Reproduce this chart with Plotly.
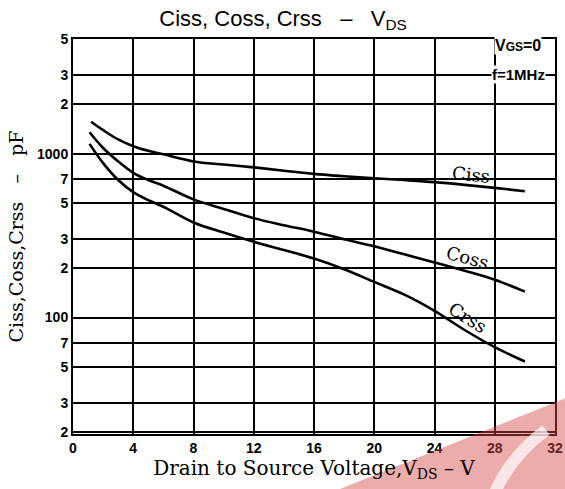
import plotly.graph_objects as go
import math

# Values (V_DS in volts, capacitance in pF)
vds_ciss = [1.2, 2, 3, 4, 5, 6, 8, 10, 12, 14, 16, 18, 20, 22, 24, 26, 28, 30]
ciss = [1564, 1390, 1220, 1110, 1040, 990, 896, 858, 824, 787, 752, 728, 708, 690, 670, 645, 618, 590]

vds_coss = [1.1, 2, 3, 4, 5, 6, 8, 10, 12, 14, 16, 18, 20, 22, 24, 26, 28, 30]
coss = [1349, 1082, 896, 764, 690, 637, 526, 460, 404, 366, 334, 300, 272, 243, 217, 193, 170, 144]

vds_crss = [1.1, 2, 3, 4, 5, 6, 8, 10, 12, 14, 16, 18, 20, 22, 24, 26, 28, 30]
crss = [1147, 875, 690, 582, 520, 474, 380, 330, 290, 258, 229, 197, 165, 138, 110, 84, 66, 54]

y_tickvals = [20, 30, 50, 70, 100, 200, 300, 500, 700, 1000, 2000, 3000, 5000]
y_ticktext = ["2", "3", "5", "7", "100", "2", "3", "5", "7", "1000", "2", "3", "5"]
x_tickvals = [0, 4, 8, 12, 16, 20, 24, 28, 32]

serif = "DejaVu Serif, Liberation Serif, serif"
sans = "Liberation Sans, DejaVu Sans, sans-serif"
nb = "\u00a0"

W, H = 565, 489
L, R, T, B = 73, 10, 39, 55
PW, PH = W - L - R, H - T - B


def pp(x, y):
    """page pixel -> paper coords"""
    return (x - L) / PW, (H - B - y) / PH


fig = go.Figure()
for xs, ys in [(vds_ciss, ciss), (vds_coss, coss), (vds_crss, crss)]:
    fig.add_trace(go.Scatter(x=xs, y=ys, mode="lines",
                             line=dict(color="black", width=2.6, shape="spline", smoothing=1.0),
                             showlegend=False, hoverinfo="skip"))

fig.update_layout(
    width=W, height=H,
    margin=dict(l=L, r=R, t=T, b=B, autoexpand=False),
    paper_bgcolor="white", plot_bgcolor="white",
    title=dict(text=f"Ciss, Coss, Crss{nb*3}\u2013{nb*3}V<sub>DS</sub>", x=0.501, xanchor="center",
               y=0.963, yanchor="middle", font=dict(family=sans, size=22, color="black")),
    xaxis=dict(range=[0, 32], tickvals=x_tickvals, ticktext=[str(v) for v in x_tickvals],
               showgrid=True, gridcolor="black", gridwidth=1.8, zeroline=False, automargin=False,
               showline=True, linecolor="black", linewidth=2, mirror=True,
               ticks="", tickfont=dict(family=sans, size=14, color="black", weight="bold"),
               title=dict(text=f"Drain to Source Voltage,V<sub>DS</sub>{nb}\u2013{nb}V",
                          font=dict(family=serif, size=20, color="black"), standoff=2)),
    yaxis=dict(type="log", range=[math.log10(19.5), math.log10(5000)], tickvals=y_tickvals, ticktext=y_ticktext,
               showgrid=True, gridcolor="black", gridwidth=1.8, zeroline=False, automargin=False,
               showline=True, linecolor="black", linewidth=2, mirror=True,
               ticks="", tickfont=dict(family=sans, size=14, color="black", weight="bold"),
               title=dict(text=f"Ciss,Coss,Crss{nb*3}\u2013{nb*3}pF",
                          font=dict(family=serif, size=19, color="black"), standoff=8)),
)


# white patches that interrupt the grid behind the curve labels (drawn under the curves)
def label_patch(cx, cy, hw, hh, ang):
    a = math.radians(ang)
    ux, uy = math.cos(a), math.sin(a)
    vx, vy = -math.sin(a), math.cos(a)
    pts = []
    for su, sv in [(-1, -1), (1, -1), (1, 1), (-1, 1)]:
        px, py = cx + su * hw * ux + sv * hh * vx, cy + su * hw * uy + sv * hh * vy
        pts.append(pp(px, py))
    path = "M " + " L ".join(f"{x:.4f} {y:.4f}" for x, y in pts) + " Z"
    fig.add_shape(type="path", xref="paper", yref="paper", path=path,
                  fillcolor="white", line=dict(width=0), layer="between")


label_patch(469, 174, 30, 10, 6)
label_patch(468, 257, 28, 11, 15)
label_patch(468, 318, 28, 11, 32)

fig.add_annotation(x=26.4, y=math.log10(741), text="Ciss", showarrow=False, textangle=6,
                   font=dict(family=serif, size=18, color="black"))
fig.add_annotation(x=26.2, y=math.log10(234), text="Coss", showarrow=False, textangle=15,
                   font=dict(family=serif, size=18, color="black"))
fig.add_annotation(x=26.2, y=math.log10(99.5), text="Crss", showarrow=False, textangle=32,
                   font=dict(family=serif, size=18, color="black"))

vx, vy = pp(542, 46)
fig.add_annotation(x=vx, y=vy, xref="paper", yref="paper", xanchor="right", yanchor="middle",
                   text="V<span style='font-size:12px'>GS</span>=0", showarrow=False, bgcolor="white",
                   borderpad=0, font=dict(family=sans, size=16, color="black", weight="bold"))
fx, fy = pp(546, 74)
fig.add_annotation(x=fx, y=fy, xref="paper", yref="paper", xanchor="right", yanchor="middle",
                   text="f=1MHz", showarrow=False, bgcolor="white", borderpad=0,
                   font=dict(family=sans, size=15, color="black", weight="bold"))

# faint red watermark corner seen in the reference scan
p1, p2, p3 = pp(340, 489), pp(566, 398), pp(566, 489)
fig.add_shape(type="path", xref="paper", yref="paper",
              path=f"M {p1[0]:.4f} {p1[1]:.4f} L {p2[0]:.4f} {p2[1]:.4f} L {p3[0]:.4f} {p3[1]:.4f} Z",
              fillcolor="rgba(215,70,70,0.45)", line=dict(width=0), layer="above")
s0, s1, s2 = pp(495, 492), pp(512, 455), pp(546, 430)
fig.add_shape(type="path", xref="paper", yref="paper",
              path=f"M {s0[0]:.4f} {s0[1]:.4f} Q {s1[0]:.4f} {s1[1]:.4f} {s2[0]:.4f} {s2[1]:.4f}",
              line=dict(color="rgba(255,255,255,0.7)", width=12), layer="above")

fig.write_html("out.html", config={"displayModeBar": False},
               post_script="document.body.style.margin='0';")
